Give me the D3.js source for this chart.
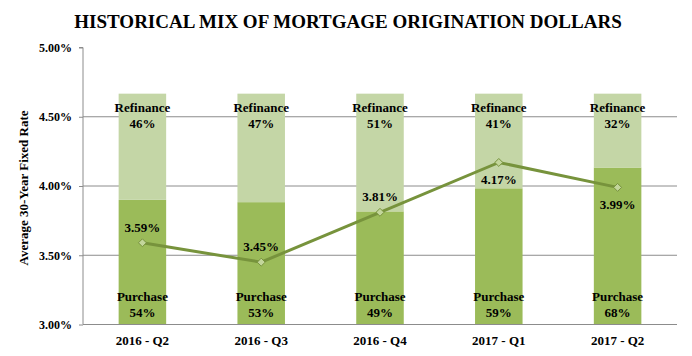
<!DOCTYPE html>
<html>
<head>
<meta charset="utf-8">
<script src="https://cdn.jsdelivr.net/npm/d3@7"></script>
<style>
  body { margin: 0; background: #fff; }
  svg { display: block; }
  text { font-family: "Liberation Serif", "Times New Roman", serif; font-weight: bold; fill: #000; }
</style>
</head>
<body>
<svg id="chart" width="692" height="356"></svg>
<script>
const categories = ["2016 - Q2", "2016 - Q3", "2016 - Q4", "2017 - Q1", "2017 - Q2"];
const purchase = [54, 53, 49, 59, 68];
const refinance = [46, 47, 51, 41, 32];
const rate = [3.59, 3.45, 3.81, 4.17, 3.99];
const rateLabelAbove = [true, true, true, false, false];
const yTicks = [3.0, 3.5, 4.0, 4.5, 5.0];

const W = 692, H = 356;
const margin = { left: 83, right: 15, top: 47.5, bottom: 31.5 };
const svg = d3.select("#chart");

const x = d3.scaleBand().domain(categories)
  .range([margin.left, W - margin.right]).paddingInner(0.6).paddingOuter(0.3);
const y = d3.scaleLinear().domain([3, 5]).range([H - margin.bottom, margin.top]);
const y2 = d3.scaleLinear().domain([0, 120]).range([H - margin.bottom, margin.top]);

const gridColor = "#8c8c8c";

// gridlines
svg.append("g").selectAll("line").data(yTicks.filter(t => t > 3 && t < 5)).join("line")
  .attr("x1", margin.left).attr("x2", W - margin.right)
  .attr("y1", d => y(d)).attr("y2", d => y(d))
  .attr("stroke", gridColor).attr("stroke-width", 1);

// bars
const purchaseColor = "#9bbb59", refiColor = "#c4d6a6";
const bars = svg.append("g");
bars.selectAll("rect.p").data(categories).join("rect").attr("class", "p")
  .attr("x", d => x(d)).attr("width", x.bandwidth())
  .attr("y", (d, i) => y2(purchase[i])).attr("height", (d, i) => y2(0) - y2(purchase[i]))
  .attr("fill", purchaseColor);
bars.selectAll("rect.r").data(categories).join("rect").attr("class", "r")
  .attr("x", d => x(d)).attr("width", x.bandwidth())
  .attr("y", (d, i) => y2(purchase[i] + refinance[i]))
  .attr("height", (d, i) => y2(purchase[i]) - y2(purchase[i] + refinance[i]))
  .attr("fill", refiColor);

// bar labels
const lab = svg.append("g").attr("font-size", 13).attr("text-anchor", "middle");
categories.forEach((c, i) => {
  const cx = x(c) + x.bandwidth() / 2;
  const top = y2(purchase[i] + refinance[i]);
  lab.append("text").attr("x", cx).attr("y", top + 18).text("Refinance");
  lab.append("text").attr("x", cx).attr("y", top + 34).text(refinance[i] + "%");
  lab.append("text").attr("x", cx).attr("y", y2(0) - 24).text("Purchase");
  lab.append("text").attr("x", cx).attr("y", y2(0) - 8).text(purchase[i] + "%");
});

// y axis
const yAxis = d3.axisLeft(y).tickValues(yTicks).tickSize(4).tickPadding(7)
  .tickFormat(d => d.toFixed(2) + "%");
const ya = svg.append("g").attr("transform", `translate(${margin.left},0)`).call(yAxis);
ya.select(".domain").attr("stroke", gridColor).attr("d", `M-4,${y(5)}H0V${y(3)}`);
ya.selectAll(".tick line").attr("stroke", gridColor);
ya.selectAll(".tick text").attr("font-size", 12).attr("font-family", "Liberation Serif").attr("font-weight", "bold");

// x axis
const xAxis = d3.axisBottom(x).tickSize(0).tickPadding(11);
const xa = svg.append("g").attr("transform", `translate(0,${y(3)})`).call(xAxis);
xa.select(".domain").attr("stroke", gridColor).attr("d", `M${margin.left},0H${W - margin.right}`);
xa.selectAll(".tick text").attr("font-size", 13).attr("font-family", "Liberation Serif").attr("font-weight", "bold");

// line
const lineColor = "#77933c";
const line = d3.line().x((d, i) => x(categories[i]) + x.bandwidth() / 2).y(d => y(d));
svg.append("path").datum(rate).attr("d", line)
  .attr("fill", "none").attr("stroke", lineColor).attr("stroke-width", 3);
svg.append("g").selectAll("path").data(rate).join("path")
  .attr("transform", (d, i) => `translate(${x(categories[i]) + x.bandwidth() / 2},${y(d)})`)
  .attr("d", d3.symbol(d3.symbolDiamond2, 40)())
  .attr("fill", "#c3d69b").attr("stroke", lineColor).attr("stroke-width", 1);

// rate labels
svg.append("g").attr("font-size", 13).attr("text-anchor", "middle")
  .selectAll("text").data(rate).join("text")
  .attr("x", (d, i) => x(categories[i]) + x.bandwidth() / 2)
  .attr("y", (d, i) => rateLabelAbove[i] ? y(d) - 11 : y(d) + 22)
  .text(d => d.toFixed(2) + "%");

// y axis title
svg.append("text").attr("transform", `translate(28,${(y(3) + y(5)) / 2 + 2}) rotate(-90)`)
  .attr("text-anchor", "middle").attr("font-size", 13).text("Average  30-Year Fixed Rate");

// title
svg.append("text").attr("x", 348).attr("y", 28).attr("text-anchor", "middle")
  .attr("font-size", 19).text("HISTORICAL MIX OF MORTGAGE ORIGINATION DOLLARS");
</script>
</body>
</html>
